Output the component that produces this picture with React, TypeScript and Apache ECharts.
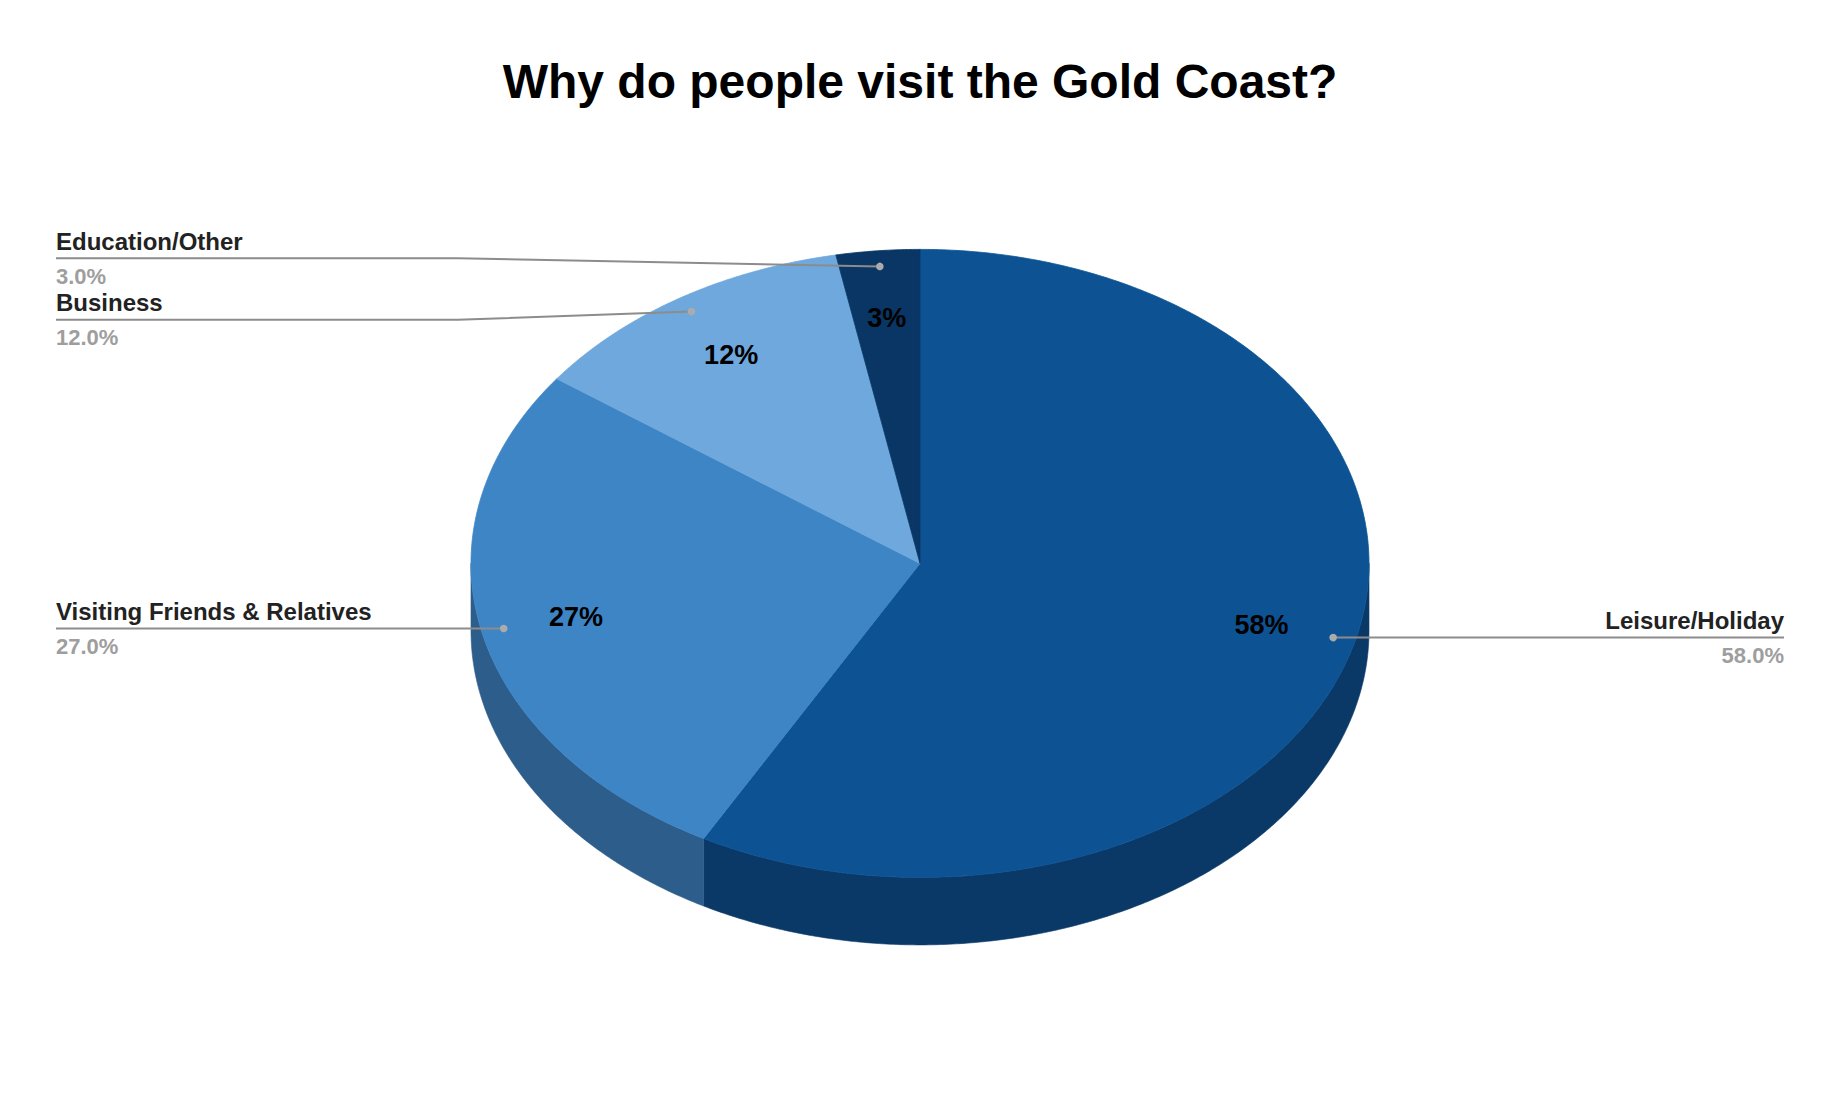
import React, { useEffect, useRef } from "react";
import * as echarts from "echarts";

// ---- data ----
const TITLE = "Why do people visit the Gold Coast?";
const categories = ["Leisure/Holiday", "Visiting Friends & Relatives", "Business", "Education/Other"];
const values = [58, 27, 12, 3];
const valueLabels = ["58.0%", "27.0%", "12.0%", "3.0%"];
const insideLabels = ["58%", "27%", "12%", "3%"];
const topColors = ["#0d5394", "#3e85c6", "#6fa8dc", "#093664"];
const sideColors = ["#0a3968", "#2d5d8b", "#4e76a0", "#062748"];

// ---- layout ----
const W = 1840;
const H = 1102;
const CX = 920;
const CY = 563.4;
const RX = 449;
const RY = 314;
const DEPTH = 67.5;
const FONT = "'Liberation Sans', Arial, Helvetica, sans-serif";
const LEFT_X = 56;
const RIGHT_X = 1784;
const KNEE = 13;
const MIN_GAP = 61.5;
const DOT_F = 0.95;
const IN_F = 0.785;
const NAME_FS = 24;
const VALUE_FS = 22;

const total = values.reduce((a, b) => a + b, 0);
const cum: number[] = [0];
values.forEach((v, i) => cum.push(cum[i] + v));

const rad = (d: number) => (d * Math.PI) / 180;
function pt(theta: number, f = 1, dy = 0): number[] {
  return [CX + f * RX * Math.sin(rad(theta)), CY - f * RY * Math.cos(rad(theta)) + dy];
}
function arcPts(t1: number, t2: number, dy = 0): number[][] {
  const n = Math.max(2, Math.ceil((t2 - t1) / 0.5));
  const out: number[][] = [];
  for (let k = 0; k <= n; k++) out.push(pt(t1 + ((t2 - t1) * k) / n, 1, dy));
  return out;
}

// label layout (overlap resolution per side)
function computeLabelY(): { y: number[]; right: boolean[] } {
  const mids = values.map((v, i) => ((cum[i] + v / 2) / total) * 360);
  const right = mids.map((m) => Math.sin(rad(m)) >= 0);
  const y = mids.map((m) => pt(m, DOT_F)[1]);
  [true, false].forEach((side) => {
    const idx = y.map((_, i) => i).filter((i) => right[i] === side).sort((a, b) => y[a] - y[b]);
    for (let iter = 0; iter < 20; iter++) {
      let moved = false;
      for (let k = 0; k < idx.length - 1; k++) {
        const a = idx[k], b = idx[k + 1];
        const gap = y[b] - y[a];
        if (gap < MIN_GAP - 0.01) {
          const d = (MIN_GAP - gap) / 2;
          y[a] -= d;
          y[b] += d;
          moved = true;
        }
      }
      if (!moved) break;
    }
  });
  return { y, right };
}

export default function App() {
  const ref = useRef<HTMLDivElement>(null);

  useEffect(() => {
    document.body.style.margin = "0";
    document.body.style.overflow = "hidden";
    if (!ref.current) return;
    const chart = echarts.init(ref.current, undefined, { renderer: "svg" });
    const layout = computeLabelY();

    const renderItem = (params: any, api: any) => {
      const i = params.dataIndex;
      const v = api.value(0) as number;
      const t1 = (cum[i] / total) * 360;
      const t2 = t1 + (v / total) * 360;
      const mid = (t1 + t2) / 2;
      const children: any[] = [];

      // side wall (front-facing half only: 90..270 deg)
      const s1 = Math.max(t1, 90);
      const s2 = Math.min(t2, 270);
      if (s2 > s1) {
        const topArc = arcPts(s1, s2, 0);
        const botArc = arcPts(s1, s2, DEPTH).reverse();
        children.push({
          type: "polygon",
          z2: 1,
          shape: { points: topArc.concat(botArc) },
          style: { fill: sideColors[i], stroke: sideColors[i], lineWidth: 0.6 },
        });
      }

      // top face
      children.push({
        type: "polygon",
        z2: 2,
        shape: { points: [[CX, CY]].concat(arcPts(t1, t2, 0)) },
        style: { fill: topColors[i], stroke: topColors[i], lineWidth: 0.8 },
      });

      // inside percentage label
      const ip = pt(mid, IN_F);
      children.push({
        type: "text",
        z2: 10,
        x: ip[0],
        y: ip[1],
        style: {
          text: insideLabels[i],
          fill: "#000000",
          fontSize: 27,
          fontWeight: "bold",
          fontFamily: FONT,
          align: "center",
          verticalAlign: "middle",
        },
      });

      // leader line + outside label
      const dot = pt(mid, DOT_F);
      const ly = layout.y[i];
      const isRight = layout.right[i];
      const kneeX = isRight ? CX + RX + KNEE : CX - RX - KNEE;
      const endX = isRight ? RIGHT_X : LEFT_X;
      children.push({
        type: "polyline",
        z2: 8,
        shape: { points: [dot, [kneeX, ly], [endX, ly]] },
        style: { stroke: "#8c8c8c", lineWidth: 2, fill: null },
      });
      children.push({
        type: "circle",
        z2: 9,
        shape: { cx: dot[0], cy: dot[1], r: 3.8 },
        style: { fill: "#ababab" },
      });
      children.push({
        type: "text",
        z2: 10,
        x: endX,
        y: ly - 8.5 - 0.3465 * NAME_FS,
        style: {
          text: categories[i],
          fill: "#222222",
          fontSize: NAME_FS,
          fontWeight: "bold",
          fontFamily: FONT,
          align: isRight ? "right" : "left",
          verticalAlign: "middle",
        },
      });
      children.push({
        type: "text",
        z2: 10,
        x: endX,
        y: ly + 25.5 - 0.3465 * VALUE_FS,
        style: {
          text: valueLabels[i],
          fill: "#9e9e9e",
          fontSize: VALUE_FS,
          fontWeight: "bold",
          fontFamily: FONT,
          align: isRight ? "right" : "left",
          verticalAlign: "middle",
        },
      });

      return { type: "group", children };
    };

    chart.setOption({
      animation: false,
      backgroundColor: "#ffffff",
      title: {
        text: TITLE,
        left: "center",
        top: 57,
        padding: 0,
        textStyle: { fontSize: 48, fontWeight: "bold", color: "#000000", fontFamily: FONT },
      },
      series: [
        {
          type: "custom",
          name: "Visitors",
          coordinateSystem: "none",
          renderItem,
          data: values.map((v, i) => ({ value: v, name: categories[i] })),
        },
      ],
    });

    return () => {
      chart.dispose();
    };
  }, []);

  return <div ref={ref} style={{ width: W, height: H }} />;
}
